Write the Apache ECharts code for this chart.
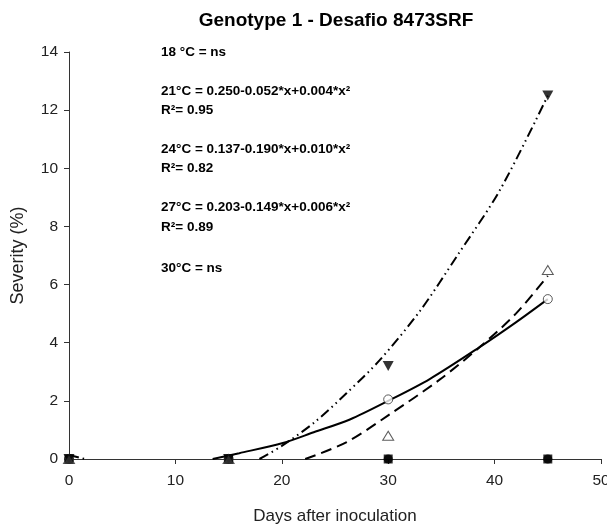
<!DOCTYPE html>
<html>
<head>
<meta charset="utf-8">
<script src="https://cdn.jsdelivr.net/npm/echarts@6/dist/echarts.min.js"></script>
<style>html,body{margin:0;padding:0;background:#fff;overflow:hidden;}#c{width:607px;height:532px;}</style>
</head>
<body>
<div id="c"></div>
<script>
// Observed data (days after inoculation, severity %)
var days = [0, 15, 30, 45];
var sev18 = [0, 0, 0, 0];
var sev21 = [0, 0, 2.05, 5.5];
var sev24 = [0, 0, 3.2, 12.5];
var sev27 = [0, 0, 0.8, 6.5];
var sev30 = [0, 0, 0, 0];

// Fitted curves
var fit21x = [13.5, 16, 20.1, 23, 26.4, 30, 33.9, 38.6, 42, 45];
var fit21y = [0, 0.2, 0.55, 0.92, 1.36, 2.0, 2.75, 3.85, 4.7, 5.5];
var fit24x = [0, 1.5, null, 17.9, 20, 23.1, 26.1, 29.2, 33, 36.5, 40.5, 45];
var fit24y = [0.14, 0, null, 0, 0.45, 1.27, 2.27, 3.4, 5.1, 7.0, 9.25, 12.5];
var fit27x = [22.2, 26.1, 30, 34.8, 38.6, 42, 45];
var fit27y = [0, 0.58, 1.5, 2.72, 3.85, 5.0, 6.3];

var titleText = 'Genotype 1 - Desafio 8473SRF';
var notes = [
  '18 °C = ns',
  '21°C = 0.250-0.052*x+0.004*x²',
  'R²= 0.95',
  '24°C = 0.137-0.190*x+0.010*x²',
  'R²= 0.82',
  '27°C = 0.203-0.149*x+0.006*x²',
  'R²= 0.89',
  '30°C = ns'
];
var noteY = [52, 91, 110, 149, 168, 207, 227, 268];

function pts(xs, ys) {
  return xs.map(function (x, i) { return x === null ? ['-', '-'] : [x, ys[i]]; });
}

var chart = echarts.init(document.getElementById('c'), null, {renderer: 'canvas', width: 607, height: 532});
var font = 'Liberation Sans, Arial, sans-serif';

var graphics = [{type: 'text', x: 336, y: 21, style: {text: titleText, font: 'bold 19px ' + font, fill: '#000', textAlign: 'center', textVerticalAlign: 'middle'}}];
notes.forEach(function (t, i) {
  graphics.push({type: 'text', x: 161, y: noteY[i], style: {text: t, font: 'bold 13.5px ' + font, fill: '#000', textAlign: 'left', textVerticalAlign: 'middle'}});
});

var lineBase = {type: 'line', symbol: 'none', smooth: 0.3, clip: true, connectNulls: false, z: 2, silent: true};

chart.setOption({
  animation: false,
  backgroundColor: '#fff',
  grid: {left: 69, right: 6, top: 52, bottom: 73, containLabel: false, outerBoundsMode: 'none'},
  xAxis: {
    type: 'value', min: 0, max: 50, interval: 10,
    name: 'Days after inoculation', nameLocation: 'middle', nameGap: 49,
    nameTextStyle: {fontFamily: font, fontSize: 17, color: '#222'},
    axisLine: {show: true, onZero: false, lineStyle: {color: '#333', width: 1}},
    axisTick: {show: true, inside: false, length: 5, lineStyle: {color: '#333'}},
    axisLabel: {fontFamily: font, fontSize: 15.5, color: '#222', margin: 14},
    splitLine: {show: false}
  },
  yAxis: {
    type: 'value', min: 0, max: 14, interval: 2,
    name: 'Severity (%)', nameLocation: 'middle', nameGap: 42,
    nameTextStyle: {fontFamily: font, fontSize: 18, color: '#222'},
    axisLine: {show: true, onZero: false, lineStyle: {color: '#333', width: 1}},
    axisTick: {show: true, inside: false, length: 5, lineStyle: {color: '#333'}},
    axisLabel: {fontFamily: font, fontSize: 15.5, color: '#222', margin: 11},
    splitLine: {show: false}
  },
  graphic: graphics,
  series: [
    Object.assign({}, lineBase, {name: 'fit21', data: pts(fit21x, fit21y), lineStyle: {color: '#000', width: 2, type: 'solid'}}),
    Object.assign({}, lineBase, {name: 'fit24', data: pts(fit24x, fit24y), lineStyle: {color: '#000', width: 2, type: [10, 4, 1.5, 4, 1.5, 4]}}),
    Object.assign({}, lineBase, {name: 'fit27', data: pts(fit27x, fit27y), lineStyle: {color: '#000', width: 2, type: [11, 6]}}),
    {type: 'scatter', name: '18', data: pts(days, sev18), symbol: 'circle', symbolSize: 9, clip: false, z: 3,
     itemStyle: {color: '#000'}},
    {type: 'scatter', name: '21', data: pts(days, sev21), symbol: 'circle', symbolSize: 9, clip: false, z: 3,
     itemStyle: {color: '#fff', borderColor: '#333', borderWidth: 1}},
    {type: 'scatter', name: '24', data: pts(days, sev24), symbol: 'triangle', symbolRotate: 180, symbolSize: [11, 10], clip: false, z: 3,
     itemStyle: {color: '#000'}},
    {type: 'scatter', name: '27', data: pts(days, sev27), symbol: 'triangle', symbolSize: [11, 9], clip: false, z: 3,
     itemStyle: {color: '#fff', borderColor: '#333', borderWidth: 1}},
    {type: 'scatter', name: '30', data: pts(days, sev30), symbol: 'rect', symbolSize: 9, clip: false, z: 3,
     itemStyle: {color: '#000'}}
  ]
});
</script>
</body>
</html>
